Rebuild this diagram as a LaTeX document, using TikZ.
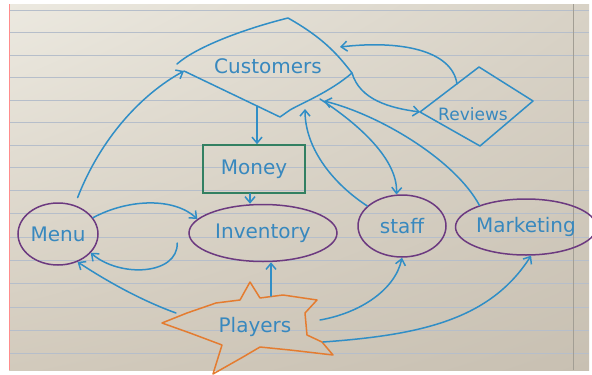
\documentclass[tikz,border=0pt]{standalone}
\usepackage{fontspec}
\setmainfont{DejaVu Sans}
\usetikzlibrary{calc}
\usetikzlibrary{shapes.geometric}
\usetikzlibrary{shadings}
\usetikzlibrary{arrows.meta}
\usetikzlibrary{positioning}

\definecolor{inkblue}{RGB}{48,142,198}
\definecolor{textblue}{RGB}{56,136,190}
\definecolor{inkpurple}{RGB}{108,58,128}
\definecolor{inkgreen}{RGB}{50,128,98}
\definecolor{inkorange}{RGB}{228,124,48}
\definecolor{rule}{RGB}{182,190,202}
\definecolor{paperA}{RGB}{236,233,224}
\definecolor{paperB}{RGB}{216,210,198}
\definecolor{paperC}{RGB}{210,202,188}
\definecolor{paperD}{RGB}{200,192,178}

\begin{document}
\begin{tikzpicture}[x=1pt,y=-1pt,
  ink/.style={draw=inkblue,line width=1.5pt,line cap=round,line join=round},
  arr/.style={ink,-{Straight Barb[length=6pt,width=10pt]}},
  word/.style={text=textblue,font=\fontsize{20}{24}\selectfont},
  blob/.style={ellipse,draw=inkpurple,line width=1.5pt,inner sep=0pt,word}]

\useasboundingbox (0,0) rectangle (592,375);
\fill[white] (0,0) rectangle (592,375);
\shade[upper left=paperA,upper right=paperB,lower left=paperC,lower right=paperD] (9,4) rectangle (589,370);
\foreach \y in {10,32.5,55,77.5,100,122.5,145,167.5,190,213.5,237,260,283.5,307,330,353}
  \draw[rule,line width=0.8pt] (9,\y) -- (589,\y);
\draw[red!45,line width=0.6pt] (9.5,4) -- (9.5,370);
\draw[black!25!paperB,line width=0.5pt] (573,4) -- (573,370);

\node[word] (customers) at (268,66) {Customers};
\coordinate (capex) at (288,18);
\coordinate (cleft) at (184,71);
\coordinate (cbot) at (280,117);
\coordinate (cnotch) at (290,110);
\coordinate (cright) at (352,73);
\draw[ink] (cleft) -- (cbot) -- (cnotch) .. controls (300,104) and (330,92) .. (cright)
  .. controls (340,58) and (327,40) .. (capex) .. controls (240,30) and (195,48) .. (177,64);

\node[word,font=\fontsize{17}{20}\selectfont] (reviews) at (473,114) {Reviews};
\coordinate (rw) at (420,112);
\coordinate (rn) at (479,67);
\coordinate (re) at (533,101);
\coordinate (rs) at (480,146);
\draw[ink] (rw) -- (rn) -- (re) -- (rs) -- cycle;

\node[draw=inkgreen,line width=1.5pt,minimum width=102pt,minimum height=48pt,word] (money) at (254,169) {Money};
\node[blob,minimum width=80pt,minimum height=62pt] (menu) at (58,234) {Menu};
\node[blob,minimum width=148pt,minimum height=57pt] (inv) at (263,233) {Inventory};
\node[blob,minimum width=88pt,minimum height=62pt] (staff) at (402,226) {staff};
\node[blob,minimum width=122pt,minimum height=56pt] (mkt) at (526,227) {Marketing};

\node[word] (players) at (255,327) {Players};
\draw[draw=inkorange,line width=1.5pt,line join=round] (162,323) -- (187,313) -- (216,303) -- (240,300)
  -- (250,282) -- (260,298) -- (283,295) -- (317,300) -- (305,313) -- (307,335) -- (322,342)
  -- (333,355) -- (290,350) -- (260,347) -- (243,357) -- (213,374) -- (222,345) -- (190,333) -- cycle;

\coordinate (cm) at (257,106);
\coordinate (ms) at ($(money.south)+(-4,0)$);
\coordinate (pin) at (271,296);
\coordinate (pl) at (176,313);
\coordinate (pr1) at (320,320);
\coordinate (pr2) at (323,342);
\coordinate (cs1) at (305,109);
\coordinate (cs2) at (320,99);
\coordinate (cs3) at (324,101);
\coordinate (rt) at (457,84);
\coordinate (cr2) at (340,47);

\draw[arr] (cm) -- (cm |- money.north);
\draw[arr] (ms) -- (ms |- inv.north);
\draw[arr,shorten <=8pt] (menu.60) .. controls (100,140) and (140,95) .. (cleft);
\draw[arr] (menu.25) .. controls (130,198) and (175,198) .. (inv.168);
\draw[arr] ($(inv.west)+(-11,10)$) .. controls (178,275) and (120,278) .. (menu.-30);
\draw[arr] (pl) .. controls (140,300) and (105,280) .. (menu.-55);
\draw[arr] (pin) -- (pin |- inv.south);
\draw[arr] (pr1) .. controls (360,313) and (395,290) .. (staff.-90);
\draw[arr] (pr2) .. controls (420,335) and (490,320) .. (mkt.-80);
\draw[arr] (staff.150) .. controls (335,185) and (305,150) .. (cs1);
\draw[arr] (cs2) .. controls (360,125) and (398,160) .. (staff.100);
\draw[arr] (mkt.155) .. controls (455,160) and (380,115) .. (cs3);
\draw[arr] (cright) .. controls (360,100) and (390,108) .. (rw);
\draw[arr] (rt) .. controls (452,50) and (400,40) .. (cr2);

\end{tikzpicture}
\end{document}
